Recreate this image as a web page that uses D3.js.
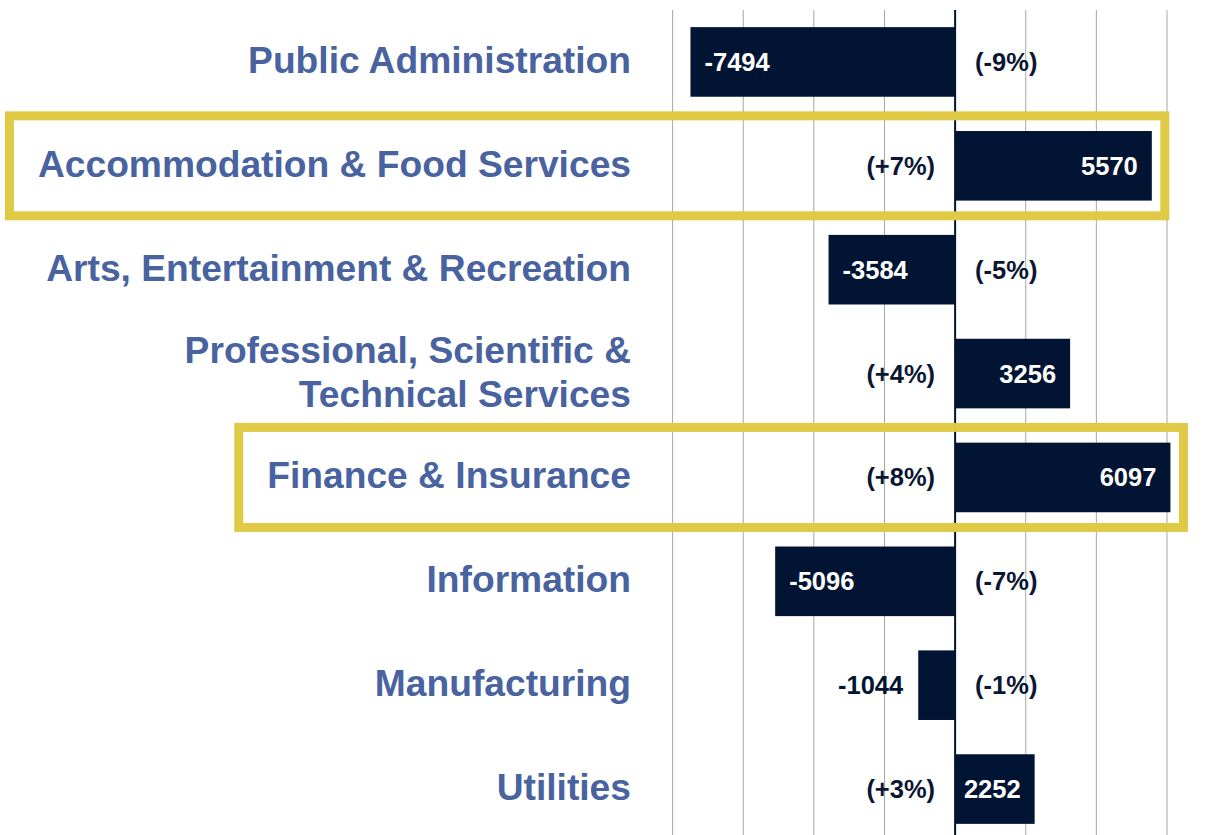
<!DOCTYPE html>
<html>
<head>
<meta charset="utf-8">
<script src="https://cdn.jsdelivr.net/npm/d3@7"></script>
<style>
body { margin: 0; background: #fff; }
text { font-family: Arial, "Liberation Sans", sans-serif; font-weight: bold; }
</style>
</head>
<body>
<script>
var categories = ["Public Administration", "Accommodation & Food Services", "Arts, Entertainment & Recreation",
	"Professional, Scientific & Technical Services", "Finance & Insurance", "Information", "Manufacturing", "Utilities"];
var changes = [-7494, 5570, -3584, 3256, 6097, -5096, -1044, 2252];
var percents = ["(-9%)", "(+7%)", "(-5%)", "(+4%)", "(+8%)", "(-7%)", "(-1%)", "(+3%)"];
var highlighted = ["Accommodation & Food Services", "Finance & Insurance"];
var gridTicks = [-8000, -6000, -4000, -2000, 0, 2000, 4000, 6000];

var w = 1225;
var h = 835;
var barColor = "#011433";
var labelColor = "#4863a0";

var svg = d3.select("body")
			.append("svg")
			.attr("width", w)
			.attr("height", h);

var xScale = d3.scaleLinear()
					.domain([-8000, 6000])
					.range([672.6, 1167]);

var yScale = d3.scaleBand()
					.domain(categories)
					.range([10, 841])
					.paddingInner(0.33)
					.paddingOuter(0.165);

var data = categories.map(function(c, i){
	return {cat: c, v: changes[i], pct: percents[i]};
});

// gridlines
svg.selectAll("line.grid")
	.data(gridTicks.filter(function(t){ return t !== 0; }))
	.enter()
	.append("line")
	.attr("class", "grid")
	.attr("x1", function(d){ return xScale(d); })
	.attr("x2", function(d){ return xScale(d); })
	.attr("y1", 10)
	.attr("y2", h)
	.attr("stroke", "#a6a6a6")
	.attr("stroke-width", 1);

svg.selectAll("rect.bar")
	.data(data)
	.enter()
	.append("rect")
	.attr("class", "bar")
	.attr("x", function(d){ return xScale(Math.min(0, d.v)); })
	.attr("y", function(d){ return yScale(d.cat); })
	.attr("width", function(d){ return Math.abs(xScale(d.v) - xScale(0)); })
	.attr("height", yScale.bandwidth())
	.attr("fill", barColor);

// zero line
svg.append("line")
	.attr("x1", xScale(0))
	.attr("x2", xScale(0))
	.attr("y1", 10)
	.attr("y2", h)
	.attr("stroke", barColor)
	.attr("stroke-width", 2);

function mid(d){ return yScale(d.cat) + yScale.bandwidth() / 2; }

// value labels
svg.selectAll("text.val")
	.data(data)
	.enter()
	.append("text")
	.attr("class", "val")
	.attr("font-size", 25.5)
	.attr("dominant-baseline", "central")
	.attr("y", mid)
	.each(function(d){
		var t = d3.select(this);
		var barW = Math.abs(xScale(d.v) - xScale(0));
		if (barW < 60) {
			t.attr("x", xScale(d.v) - 15).attr("text-anchor", "end").attr("fill", barColor);
		} else if (d.v < 0) {
			t.attr("x", xScale(d.v) + 14).attr("text-anchor", "start").attr("fill", "#fff");
		} else {
			t.attr("x", xScale(d.v) - 14).attr("text-anchor", "end").attr("fill", "#fff");
		}
	})
	.text(function(d){ return d.v; });

// percent labels
svg.selectAll("text.pct")
	.data(data)
	.enter()
	.append("text")
	.attr("class", "pct")
	.attr("font-size", 25.5)
	.attr("dominant-baseline", "central")
	.attr("fill", "#0b1633")
	.attr("y", mid)
	.attr("x", function(d){ return d.v < 0 ? xScale(0) + 20 : xScale(0) - 20; })
	.attr("text-anchor", function(d){ return d.v < 0 ? "start" : "end"; })
	.text(function(d){ return d.pct; });

// category labels, wrapped
var labelX = 631;
var lineH = 44;
var labels = svg.selectAll("text.cat")
	.data(data)
	.enter()
	.append("text")
	.attr("class", "cat")
	.attr("font-size", 37.2)
	.attr("fill", labelColor)
	.attr("text-anchor", "end")
	.attr("dominant-baseline", "central");

labels.each(function(d){
	var t = d3.select(this);
	var words = d.cat.split(" ");
	var lines = [];
	var line = [];
	var probe = t.append("tspan");
	words.forEach(function(wd){
		line.push(wd);
		probe.text(line.join(" "));
		if (probe.node().getComputedTextLength() > 610 && line.length > 1) {
			line.pop();
			lines.push(line.join(" "));
			line = [wd];
		}
	});
	lines.push(line.join(" "));
	probe.remove();
	var y0 = mid(d) - 2 - (lines.length - 1) * lineH / 2;
	lines.forEach(function(l, i){
		t.append("tspan")
			.attr("x", labelX)
			.attr("y", y0 + i * lineH)
			.text(l);
	});
});

// highlight boxes
labels.filter(function(d){ return highlighted.indexOf(d.cat) >= 0; })
	.each(function(d){
		var bb = this.getBBox();
		var x0 = bb.x - 28.5;
		var x1 = xScale(d.v) + 13;
		svg.append("rect")
			.attr("x", x0)
			.attr("y", mid(d) - 50)
			.attr("width", x1 - x0)
			.attr("height", 100)
			.attr("fill", "none")
			.attr("stroke", "#e0ca45")
			.attr("stroke-width", 9);
	});
</script>
</body>
</html>
